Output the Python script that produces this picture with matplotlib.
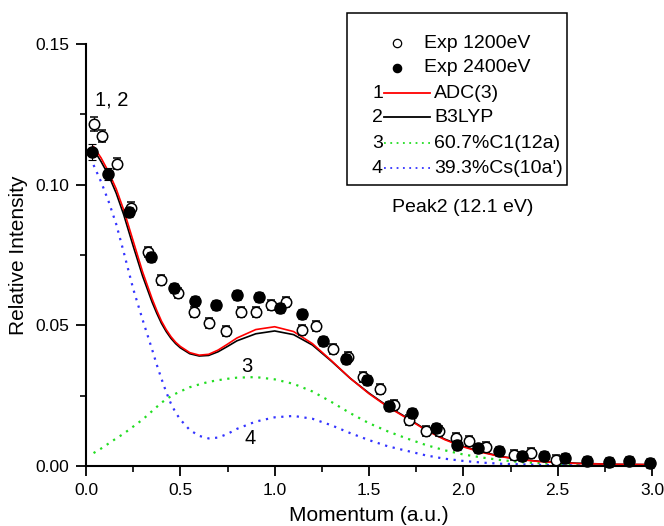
import matplotlib
matplotlib.use("Agg")
import matplotlib.pyplot as plt
from matplotlib.lines import Line2D
from matplotlib.patches import Rectangle
from matplotlib.ticker import MultipleLocator

plt.rcParams['font.family'] = ['Liberation Sans', 'DejaVu Sans']

# experimental data, 1200 eV (open) and 2400 eV (filled)
p_open = [0.04, 0.085, 0.164, 0.238, 0.33, 0.40, 0.49, 0.57, 0.65, 0.74, 0.82, 0.90,
          0.98, 1.06, 1.145, 1.22, 1.31, 1.39, 1.47, 1.56, 1.63, 1.71, 1.80, 1.87,
          1.96, 2.03, 2.12, 2.27, 2.36, 2.49]
i_open = [0.1216, 0.1173, 0.1074, 0.0917, 0.0761, 0.0661, 0.0615, 0.0547, 0.0508, 0.0480,
          0.0547, 0.0547, 0.0572, 0.0583, 0.0483, 0.0498, 0.0416, 0.0387, 0.0316, 0.0274,
          0.0217, 0.0164, 0.0124, 0.0124, 0.0100, 0.0089, 0.0068, 0.0039, 0.0046, 0.0022]
e_open = [0.0026, 0.0020, 0.0020, 0.0020] + [0.0018] * 26

p_fill = [0.032, 0.117, 0.228, 0.345, 0.466, 0.58, 0.69, 0.80, 0.917, 1.03, 1.145, 1.256,
          1.378, 1.49, 1.606, 1.73, 1.855, 1.966, 2.08, 2.19, 2.31, 2.43, 2.54, 2.655,
          2.77, 2.88, 2.99]
i_fill = [0.1116, 0.1038, 0.0903, 0.0743, 0.0633, 0.0587, 0.0572, 0.0608, 0.0600, 0.0562,
          0.0540, 0.0444, 0.0380, 0.0306, 0.0213, 0.0188, 0.0135, 0.0075, 0.0064, 0.0053,
          0.0036, 0.0036, 0.0028, 0.0018, 0.0014, 0.0018, 0.0011]
e_fill = [0.0028, 0.0020] + [0.0018] * 25

# theory curves
p_th = [0.04, 0.08, 0.12, 0.16, 0.2, 0.25, 0.3, 0.35, 0.375, 0.4, 0.425, 0.45, 0.475,
        0.5, 0.55, 0.6, 0.65, 0.7, 0.75, 0.8, 0.9, 1.0, 1.1, 1.2, 1.3, 1.4, 1.5, 1.6,
        1.7, 1.8, 1.9, 2.0, 2.1, 2.2, 2.3, 2.4, 2.6, 2.8, 3.0]
adc3 = [0.1135, 0.1095, 0.1045, 0.0985, 0.0910, 0.0800, 0.0690, 0.0595, 0.0553, 0.0515,
        0.0485, 0.0460, 0.0440, 0.0425, 0.0403, 0.0394, 0.0397, 0.0412, 0.0433, 0.0455,
        0.0485, 0.0495, 0.0478, 0.0435, 0.0375, 0.0312, 0.0257, 0.0210, 0.0170, 0.0128,
        0.0094, 0.0068, 0.0048, 0.0033, 0.0023, 0.0016, 0.0009, 0.0006, 0.0005]
b3lyp = [0.1125, 0.1082, 0.1033, 0.0970, 0.0893, 0.0782, 0.0675, 0.0583, 0.0543, 0.0507,
         0.0478, 0.0454, 0.0435, 0.0420, 0.0399, 0.0391, 0.0393, 0.0406, 0.0425, 0.0445,
         0.0470, 0.0480, 0.0467, 0.0430, 0.0373, 0.0312, 0.0259, 0.0212, 0.0172, 0.0130,
         0.0096, 0.0070, 0.0050, 0.0034, 0.0024, 0.0017, 0.0010, 0.0006, 0.0005]
c1_12a = [0.0046, 0.0062, 0.0080, 0.0098, 0.0115, 0.0140, 0.0165, 0.0195, 0.0210, 0.0225,
          0.0237, 0.0248, 0.0257, 0.0265, 0.0280, 0.0290, 0.0299, 0.0305, 0.0310, 0.0314,
          0.0316, 0.0308, 0.0292, 0.0265, 0.0228, 0.0188, 0.0152, 0.0123, 0.0098, 0.0075,
          0.0056, 0.0041, 0.0030, 0.0021, 0.0014, 0.0010, 0.0005, 0.0003, 0.0002]
cs_10a = [0.1070, 0.1010, 0.0940, 0.0860, 0.0760, 0.0630, 0.0520, 0.0415, 0.0360, 0.0310,
          0.0263, 0.0222, 0.0190, 0.0165, 0.0128, 0.0107, 0.0098, 0.0101, 0.0114, 0.0132,
          0.0158, 0.0173, 0.0178, 0.0168, 0.0145, 0.0117, 0.0092, 0.0070, 0.0054, 0.0038,
          0.0026, 0.0018, 0.0012, 0.0008, 0.0006, 0.0004, 0.0002, 0.0001, 0.0001]

W, H = 664, 526
fig = plt.figure(figsize=(W / 100, H / 100), dpi=100)
ax = fig.add_axes([86 / W, 1 - 466 / H, 566 / W, 422 / H])

red, blk, grn, blu = '#ff0000', '#000000', '#22dd22', '#3333ff'
dots = (0, (1, 2.5))

ax.plot(p_th, c1_12a, color=grn, lw=1.6, ls=dots, clip_on=False)
ax.plot(p_th, cs_10a, color=blu, lw=1.6, ls=dots, clip_on=False)
ax.plot(p_th, b3lyp, color=blk, lw=1.2, clip_on=False)
ax.plot(p_th, adc3, color=red, lw=1.2, clip_on=False)

ax.errorbar(p_open, i_open, yerr=e_open, fmt='o', ms=7.5, mfc='white', mec='black',
            mew=1.1, ecolor='black', elinewidth=0.8, capsize=3, capthick=0.8,
            clip_on=False, zorder=4)
ax.errorbar(p_fill, i_fill, yerr=e_fill, fmt='o', ms=8, mfc='black', mec='black',
            ecolor='black', elinewidth=0.8, capsize=3, capthick=0.8,
            clip_on=False, zorder=5)

ax.set_xlim(0, 3.0)
ax.set_ylim(0, 0.15)
ax.xaxis.set_major_locator(MultipleLocator(0.5))
ax.xaxis.set_minor_locator(MultipleLocator(0.25))
ax.yaxis.set_major_locator(MultipleLocator(0.05))
ax.yaxis.set_minor_locator(MultipleLocator(0.025))
ax.xaxis.set_major_formatter(matplotlib.ticker.FormatStrFormatter('%.1f'))
ax.yaxis.set_major_formatter(matplotlib.ticker.FormatStrFormatter('%.2f'))
ax.tick_params(which='major', direction='out', length=7, width=1.3, labelsize=12.5, pad=5)
ax.tick_params(which='minor', direction='out', length=4, width=1.2)
for s in ['top', 'right']:
    ax.spines[s].set_visible(False)
for s in ['left', 'bottom']:
    ax.spines[s].set_linewidth(1.5)

ax.set_xlabel('Momentum (a.u.)', fontsize=15, labelpad=6)
ax.set_ylabel('Relative Intensity', fontsize=15, labelpad=5)

# curve labels
def px(x, y):
    return x / W, 1 - y / H

fig.text(*px(112, 100), '1, 2', fontsize=14.5, ha='center', va='center')
fig.text(*px(247, 367), '3', fontsize=14.5, ha='center', va='center')
fig.text(*px(250, 438), '4', fontsize=14.5, ha='center', va='center')
fig.text(*px(463, 208), 'Peak2 (12.1 eV)', fontsize=14, ha='center', va='center')

# legend box drawn by hand (numbers sit before line samples)
x0, y0 = px(347, 185)
x1, y1 = px(567, 13)
fig.add_artist(Rectangle((x0, y0), x1 - x0, y1 - y0, transform=fig.transFigure,
                         fill=False, ec='black', lw=1.1))
rows = [
    ('', None, 'Exp 1200eV', 'open'),
    ('', None, 'Exp 2400eV', 'fill'),
    ('1', (red, '-'), 'ADC(3)', None),
    ('2', (blk, '-'), 'B3LYP', None),
    ('3', (grn, dots), '60.7%C1(12a)', None),
    ('4', (blu, dots), "39.3%Cs(10a')", None),
]
ys = [43, 68, 93, 117, 143, 168]
for (num, ln, lab, mk), yy in zip(rows, ys):
    if mk:
        xm, ym = px(397, yy)
        fig.add_artist(Line2D([xm], [ym], marker='o', ms=6,
                              mfc='white' if mk == 'open' else 'black', mec='black',
                              mew=0.9, transform=fig.transFigure))
        fig.text(*px(424, yy), lab, fontsize=14, ha='left', va='center')
    else:
        fig.text(*px(383, yy), num, fontsize=14, ha='right', va='center')
        xa, ya = px(384, yy)
        xb, _ = px(430, yy)
        fig.add_artist(Line2D([xa, xb], [ya, ya], color=ln[0], ls=ln[1],
                              lw=1.3, transform=fig.transFigure))
        fig.text(*px(434, yy), lab, fontsize=14, ha='left', va='center')

fig.savefig('out.png', dpi=100)
